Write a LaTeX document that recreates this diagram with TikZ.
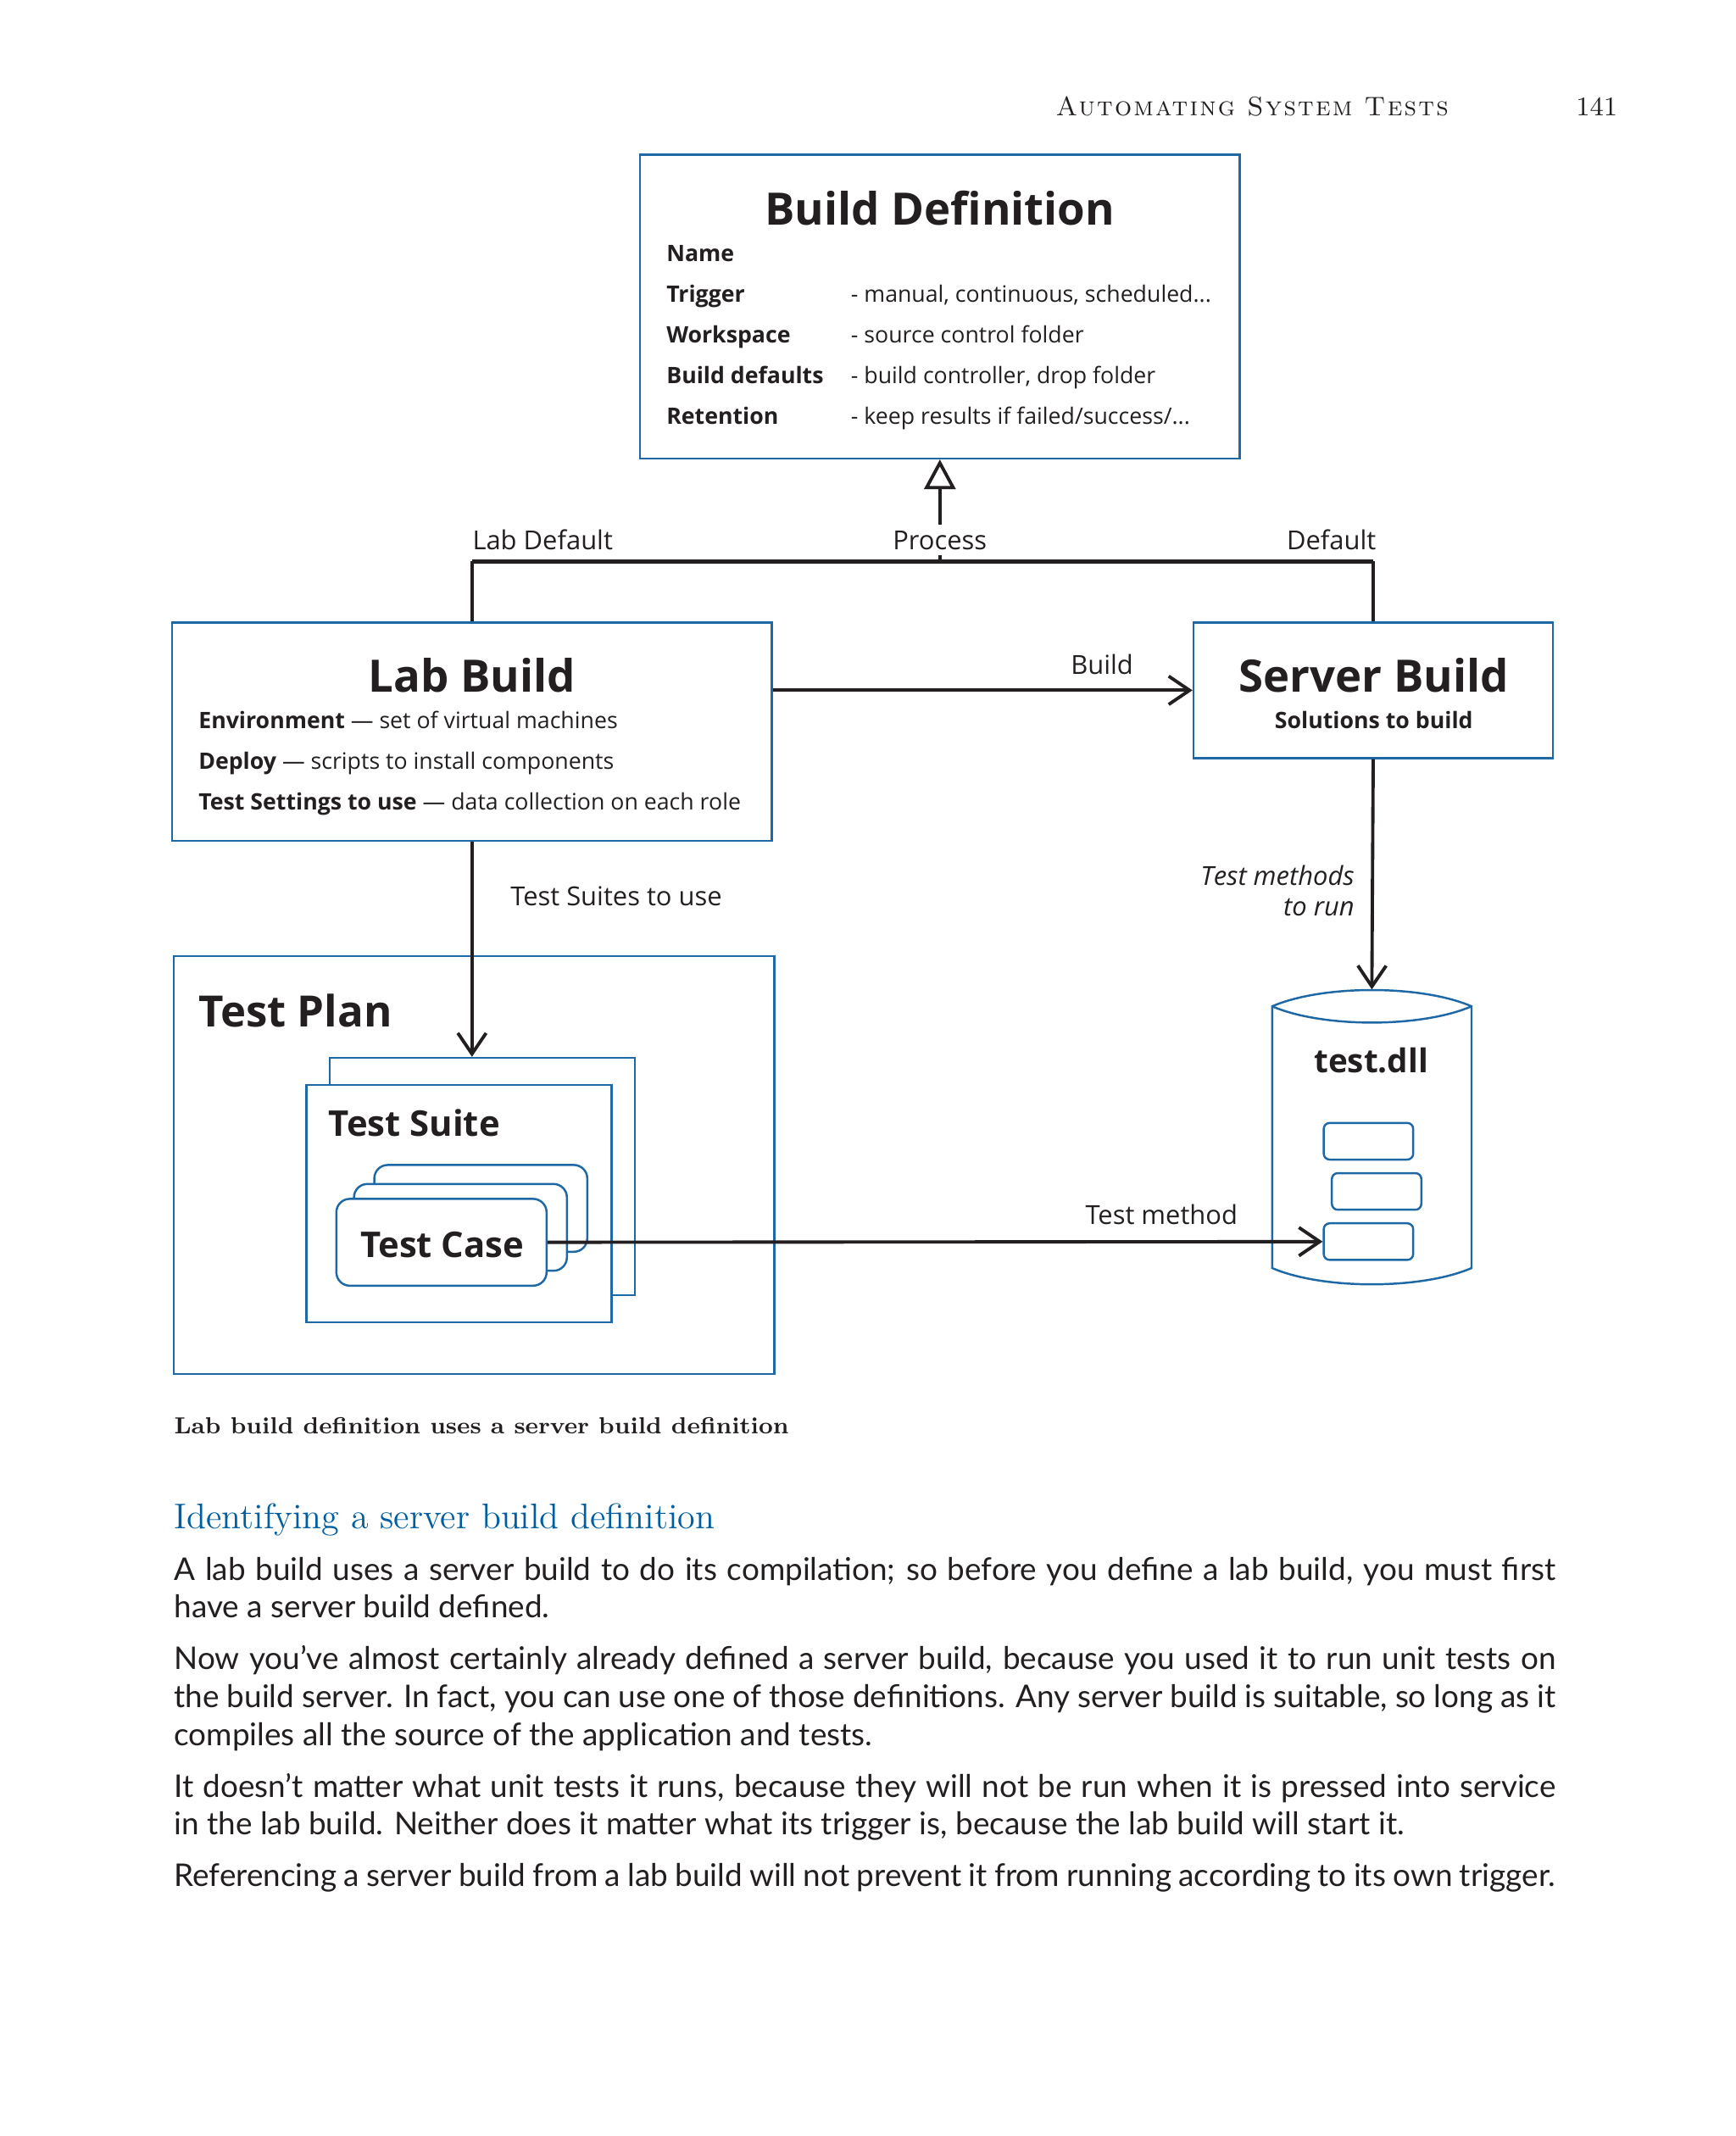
\documentclass[tikz,border=0pt]{standalone}
\usepackage{fontspec}
\setsansfont{Open Sans}
\newfontfamily\bodyfont{Lato}
\newfontfamily\headfont{lmromancaps10-regular.otf}[LetterSpace=7]
\usetikzlibrary{arrows.meta,fit}

\definecolor{boxblue}{RGB}{30,104,166}
\definecolor{headblue}{RGB}{0,94,160}
\definecolor{ink}{RGB}{35,31,32}

\newcommand\dgtitle{\fontsize{15}{18}\selectfont\bfseries}
\newcommand\dgsub{\fontsize{11.9}{14}\selectfont\bfseries}
\newcommand\dgrow{\fontsize{7.6}{9}\selectfont}
\newcommand\dglabel{\fontsize{8.8}{10.5}\selectfont}
\newcommand\bodysize{\fontsize{10.5}{12.75}\selectfont}
\newlength\bodyw
\setlength\bodyw{16.304cm}

\tikzset{
	frame/.style={draw=boxblue, line width=0.7pt, inner sep=0pt},
	card/.style={frame, fill=white},
	roundcard/.style={frame, fill=white, rounded corners=4.5pt},
	slot/.style={frame, rounded corners=2pt},
	txt/.style={inner sep=0pt, anchor=base west},
	ctxt/.style={inner sep=0pt, anchor=base},
	conn/.style={draw=ink, line width=1.1pt},
	barb/.style={conn, -{Straight Barb[length=7pt, width=9.5pt]}},
	body/.style={inner sep=0pt, anchor=base west, font=\bodyfont\bodysize},
}

\begin{document}
\begin{tikzpicture}[x=0.016cm, y=-0.016cm, font=\sffamily, text=ink]
	\useasboundingbox (0,0) rectangle (1280,1575);

	% running head
	\node[txt] (runhead) at (778,85) {\headfont\fontsize{9}{11}\selectfont Automating System Tests};
	\node[inner sep=0pt, anchor=base east] (pageno) at (1193,85) {\rmfamily\fontsize{9}{11}\selectfont 141};

	% boxes
	\node[card, fit={(472,114) (914,338)}] (builddef) {};
	\node[card, fit={(127,459) (569,620)}] (labbuild) {};
	\node[card, fit={(880,459) (1145,559)}] (serverbuild) {};
	\node[card, fit={(128,705) (571,1013)}] (testplan) {};
	\node[card, fit={(243,780) (468,955)}] (suiteback) {};
	\node[card, fit={(226,800) (451,975)}] (suite) {};
	\node[roundcard, fit={(276,859) (433,923)}] (caseback) {};
	\node[roundcard, fit={(261,873) (418,937)}] (casemid) {};
	\node[roundcard, fit={(248,884) (403,948)}] (testcase) {};

	% test.dll cylinder
	\draw[boxblue, line width=0.7pt, fill=white] (938,742) -- (938,935)
		.. controls (975,951) and (1048,951) .. (1085,935) -- (1085,742)
		.. controls (1048,726) and (975,726) .. (938,742) -- cycle;
	\draw[boxblue, line width=0.7pt] (938,742) .. controls (975,758) and (1048,758) .. (1085,742);
	\node[inner sep=0pt, fit={(938,730) (1085,948)}] (dll) {};
	\node[slot, fit={(976,828) (1042,855)}] (method1) {};
	\node[slot, fit={(982,865) (1048,892)}] (method2) {};
	\node[slot, fit={(976,902) (1042,929)}] (method3) {};

	% Build Definition
	\node[ctxt] (bdtitle) at (693,166) {\dgtitle Build Definition};
	\node[txt] (bdname) at (491,193) {\dgrow\bfseries Name};
	\node[txt] (bdtrigger) at (491,223) {\dgrow\bfseries Trigger};
	\node[txt] (bdtriggerv) at (627,223) {\dgrow - manual, continuous, scheduled...};
	\node[txt] (bdwork) at (491,253) {\dgrow\bfseries Workspace};
	\node[txt] (bdworkv) at (627,253) {\dgrow - source control folder};
	\node[txt] (bddef) at (491,283) {\dgrow\bfseries Build defaults};
	\node[txt] (bddefv) at (627,283) {\dgrow - build controller, drop folder};
	\node[txt] (bdret) at (491,313) {\dgrow\bfseries Retention};
	\node[txt] (bdretv) at (627,313) {\dgrow - keep results if failed/success/...};

	% Lab Build
	\node[ctxt] (lbtitle) at (348,510) {\dgtitle Lab Build};
	\node[txt] (lbenv) at (146,537) {\dgrow\textbf{Environment} --- set of virtual machines};
	\node[txt] (lbdeploy) at (146,567) {\dgrow\textbf{Deploy} --- scripts to install components};
	\node[txt] (lbsettings) at (146,597) {\dgrow\textbf{Test Settings to use} --- data collection on each role};

	% Server Build
	\node[ctxt] (sbtitle) at (1013,510) {\dgtitle Server Build};
	\node[ctxt] (sbsol) at (1013,537) {\dgrow\bfseries Solutions to build};

	% Test Plan
	\node[txt] (tptitle) at (146,757) {\fontsize{14.5}{17}\selectfont\bfseries Test Plan};
	\node[txt] (tstitle) at (242,838) {\dgsub Test Suite};
	\node[ctxt] (tctitle) at (326,927) {\dgsub Test Case};
	\node[ctxt] (dlltitle) at (1011,791) {\fontsize{11}{13}\selectfont\bfseries test.dll};

	% connectors
	\coordinate (join) at (693,414);
	\draw[conn, line width=1.4pt] (labbuild.north |- join) -- (serverbuild.north |- join);
	\draw[conn] (labbuild.north) -- (labbuild.north |- join);
	\draw[conn] (serverbuild.north) -- (serverbuild.north |- join);
	\draw[conn, -{Triangle[length=10pt, width=10.5pt, fill=white]}] (join) -- (builddef.south);
	\draw[barb] (serverbuild.west -| labbuild.east) -- (serverbuild.west);
	\draw[barb] (labbuild.south) -- (labbuild.south |- suiteback.north);
	\draw[barb] (serverbuild.south) -- (dll.north);
	\draw[barb] (testcase.east) -- (method3.west);

	% connector labels
	\node[txt] (lablab) at (348,405) {\dglabel Lab Default};
	\node[ctxt, fill=white, inner xsep=1pt, inner ysep=2pt] (procl) at (693,405) {\dglabel Process};
	\node[inner sep=0pt, anchor=base east] (defl) at (1015,405) {\dglabel Default};
	\node[inner sep=0pt, anchor=base east] (buildl) at (836,497) {\dglabel Build};
	\node[txt] (suitesl) at (376,668) {\dglabel Test Suites to use};
	\node[inner sep=0pt, anchor=base east] (methodsl) at (999,653) {\dglabel\itshape Test methods};
	\node[inner sep=0pt, anchor=base east] (runl) at (999,675) {\dglabel\itshape to run};
	\node[inner sep=0pt, anchor=base east] (methodl) at (913,903) {\dglabel Test method};

	% caption and text
	\node[txt] (caption) at (128,1057) {\rmfamily\fontsize{7.8}{10}\selectfont\bfseries Lab build definition uses a server build definition};
	\node[txt, text=headblue] (heading) at (128,1127) {\rmfamily\fontsize{12}{14}\selectfont Identifying a server build definition};
	\node[body] (line1) at (128,1165) {\makebox[\bodyw][s]{A lab build uses a server build to do its compilation; so before you define a lab build, you must first}};
	\node[body] (line2) at (128,1193) {have a server build defined.};
	\node[body] (line3) at (128,1231) {\makebox[\bodyw][s]{Now you’ve almost certainly already defined a server build, because you used it to run unit tests on}};
	\node[body] (line4) at (128,1259) {\makebox[\bodyw][s]{the build server. In fact, you can use one of those definitions. Any server build is suitable, so long as it}};
	\node[body] (line5) at (128,1287) {compiles all the source of the application and tests.};
	\node[body] (line6) at (128,1325) {\makebox[\bodyw][s]{It doesn’t matter what unit tests it runs, because they will not be run when it is pressed into service}};
	\node[body] (line7) at (128,1353) {in the lab build. Neither does it matter what its trigger is, because the lab build will start it.};
	\node[body] (line8) at (128,1391) {\makebox[\bodyw][s]{Referencing a server build from a lab build will not prevent it from running according to its own trigger.}};
\end{tikzpicture}
\end{document}
